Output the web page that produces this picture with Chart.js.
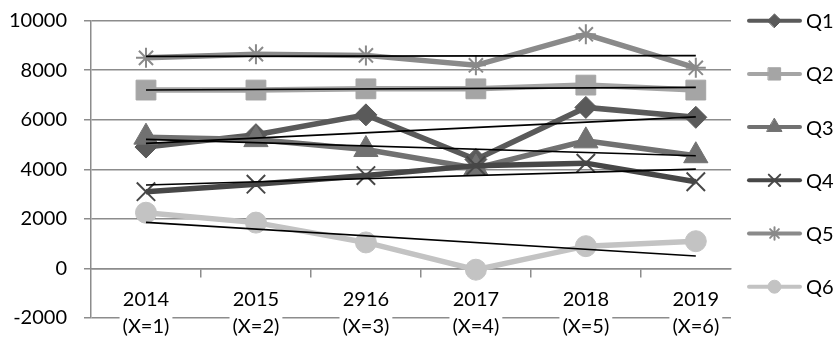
<!DOCTYPE html>
<html>
<head>
<meta charset="utf-8">
<script src="https://cdn.jsdelivr.net/npm/chart.js@4.4.1/dist/chart.umd.min.js"></script>
<style>
  html, body { margin: 0; padding: 0; background: #fff; }
  #wrap { width: 837px; height: 339px; }
</style>
</head>
<body>
<div id="wrap"><canvas id="chart" width="837" height="339"></canvas></div>
<script>
// categories
const years = ['2014', '2015', '2916', '2017', '2018', '2019'];
const xNotes = ['(X=1)', '(X=2)', '(X=3)', '(X=4)', '(X=5)', '(X=6)'];
const xPos = [1, 2, 3, 4, 5, 6];
const seriesNames = ['Q1', 'Q2', 'Q3', 'Q4', 'Q5', 'Q6'];

// values
const q1 = [4900, 5400, 6200, 4400, 6500, 6100];
const q2 = [7200, 7200, 7250, 7250, 7400, 7200];
const q3 = [5300, 5200, 4800, 4050, 5150, 4550];
const q4 = [3100, 3400, 3750, 4150, 4250, 3500];
const q5 = [8500, 8650, 8600, 8200, 9450, 8100];
const q6 = [2250, 1850, 1050, -50, 900, 1100];

// black trend lines, value at X=1 and at X=6
const trendStart = [5050, 7200, 5210, 3370, 8560, 1860];
const trendEnd = [6120, 7310, 4550, 4010, 8590, 500];

// y axis ticks
const yTicks = [-2000, 0, 2000, 4000, 6000, 8000, 10000];
// boundaries between categories (small tick marks on the zero line)
const xBounds = [1.5, 2.5, 3.5, 4.5, 5.5];

const allSeries = [q1, q2, q3, q4, q5, q6];
const colors = ['#5a5a5a', '#a5a5a5', '#717171', '#474747', '#8a8a8a', '#c3c3c3'];
const styles = ['rectRot', 'rect', 'triangle', 'crossRot', 'star', 'circle'];
const radii = [11, 14, 14, 13, 10, 10.5];
const gridColor = '#8c8c8c';
const FONT = 'Lato, "Open Sans", sans-serif';

const datasets = [];
allSeries.forEach((vals, i) => {
  const cross = styles[i] === 'crossRot' || styles[i] === 'star';
  datasets.push({
    label: seriesNames[i],
    data: vals.map((v, j) => ({ x: xPos[j], y: v })),
    borderColor: colors[i],
    backgroundColor: colors[i],
    borderWidth: 5.5,
    tension: 0,
    pointStyle: styles[i],
    pointRadius: radii[i],
    pointHoverRadius: radii[i],
    pointBorderWidth: cross ? 2 : 1,
    pointBorderColor: colors[i],
    pointBackgroundColor: colors[i],
    order: 20 - i
  });
});
allSeries.forEach((vals, i) => {
  datasets.push({
    label: seriesNames[i] + ' trend',
    isTrend: true,
    data: [{ x: xPos[0], y: trendStart[i] }, { x: xPos[xPos.length - 1], y: trendEnd[i] }],
    borderColor: '#000',
    borderWidth: 1.6,
    pointRadius: 0,
    order: 1
  });
});

// legend on the right: line with the marker on it, then the name
const sideLegend = {
  id: 'sideLegend',
  afterDraw(chart) {
    const ctx = chart.ctx;
    const x0 = chart.chartArea.right + 16;
    const x1 = x0 + 55;
    let n = 0;
    chart.data.datasets.forEach((ds) => {
      if (ds.isTrend) return;
      const y = 20.7 + n * 53.2;
      ctx.save();
      ctx.strokeStyle = ds.borderColor;
      ctx.lineWidth = 4;
      ctx.lineCap = 'round';
      ctx.beginPath();
      ctx.moveTo(x0 + 2, y);
      ctx.lineTo(x1 - 2, y);
      ctx.stroke();
      ctx.fillStyle = ds.pointBackgroundColor;
      ctx.strokeStyle = ds.pointBorderColor;
      ctx.lineWidth = ds.pointBorderWidth;
      Chart.helpers.drawPoint(ctx, {
        pointStyle: ds.pointStyle,
        radius: ds.pointRadius * 0.62,
        rotation: 0,
        borderWidth: ds.pointBorderWidth
      }, (x0 + x1) / 2, y);
      ctx.fillStyle = '#000';
      ctx.font = '20px ' + FONT;
      ctx.textBaseline = 'middle';
      ctx.textAlign = 'left';
      ctx.fillText(ds.label, x1 + 4, y + 1);
      ctx.restore();
      n++;
    });
  }
};

const labelFont = { family: FONT, size: 20, lineHeight: 1.2 };

// two label rows under the zero line: years, then the X index (with white backing)
function labelAxis(texts, pad, backdrop) {
  return {
    type: 'linear',
    axis: 'x',
    position: { y: 0 },
    min: 0.5,
    max: 6.32,
    afterBuildTicks: (s) => { s.ticks = xPos.map(v => ({ value: v })); },
    grid: { display: false, drawTicks: false },
    border: { display: false },
    ticks: {
      z: 1,
      padding: pad,
      color: '#000',
      font: labelFont,
      maxRotation: 0,
      autoSkip: false,
      showLabelBackdrop: backdrop,
      backdropColor: '#fff',
      backdropPadding: { x: 3, y: 1 },
      callback: (v) => {
        const i = xPos.indexOf(v);
        return i < 0 ? '' : texts[i];
      }
    }
  };
}

new Chart(document.getElementById('chart').getContext('2d'), {
  type: 'line',
  data: { datasets: datasets },
  plugins: [sideLegend],
  options: {
    responsive: false,
    animation: false,
    layout: { padding: { left: 0, right: 106, top: 20.7, bottom: 21 } },
    plugins: {
      legend: { display: false },
      tooltip: { enabled: false }
    },
    scales: {
      x: labelAxis(years, 19.5, false),
      xn: labelAxis(xNotes, 46.5, true),
      xb: {
        type: 'linear',
        axis: 'x',
        position: { y: 0 },
        min: 0.5,
        max: 6.32,
        afterBuildTicks: (s) => { s.ticks = xBounds.map(v => ({ value: v })); },
        grid: { drawOnChartArea: false, drawTicks: true, tickLength: 8, color: gridColor, lineWidth: 1.5 },
        border: { display: true, color: gridColor, width: 1.5 },
        ticks: { display: false }
      },
      y: {
        type: 'linear',
        position: 'left',
        min: -2000,
        max: 10000,
        afterBuildTicks: (s) => { s.ticks = yTicks.map(v => ({ value: v })); },
        afterFit: (s) => {
          s.width = 91;
          s.paddingTop = 0;
          s.paddingBottom = 0;
        },
        grid: { color: gridColor, lineWidth: 1.5, tickLength: 7 },
        border: { color: gridColor, width: 1.5 },
        ticks: {
          padding: 17,
          color: '#000',
          font: { family: FONT, size: 20 },
          callback: (v) => String(v)
        }
      }
    }
  }
});
</script>
</body>
</html>
